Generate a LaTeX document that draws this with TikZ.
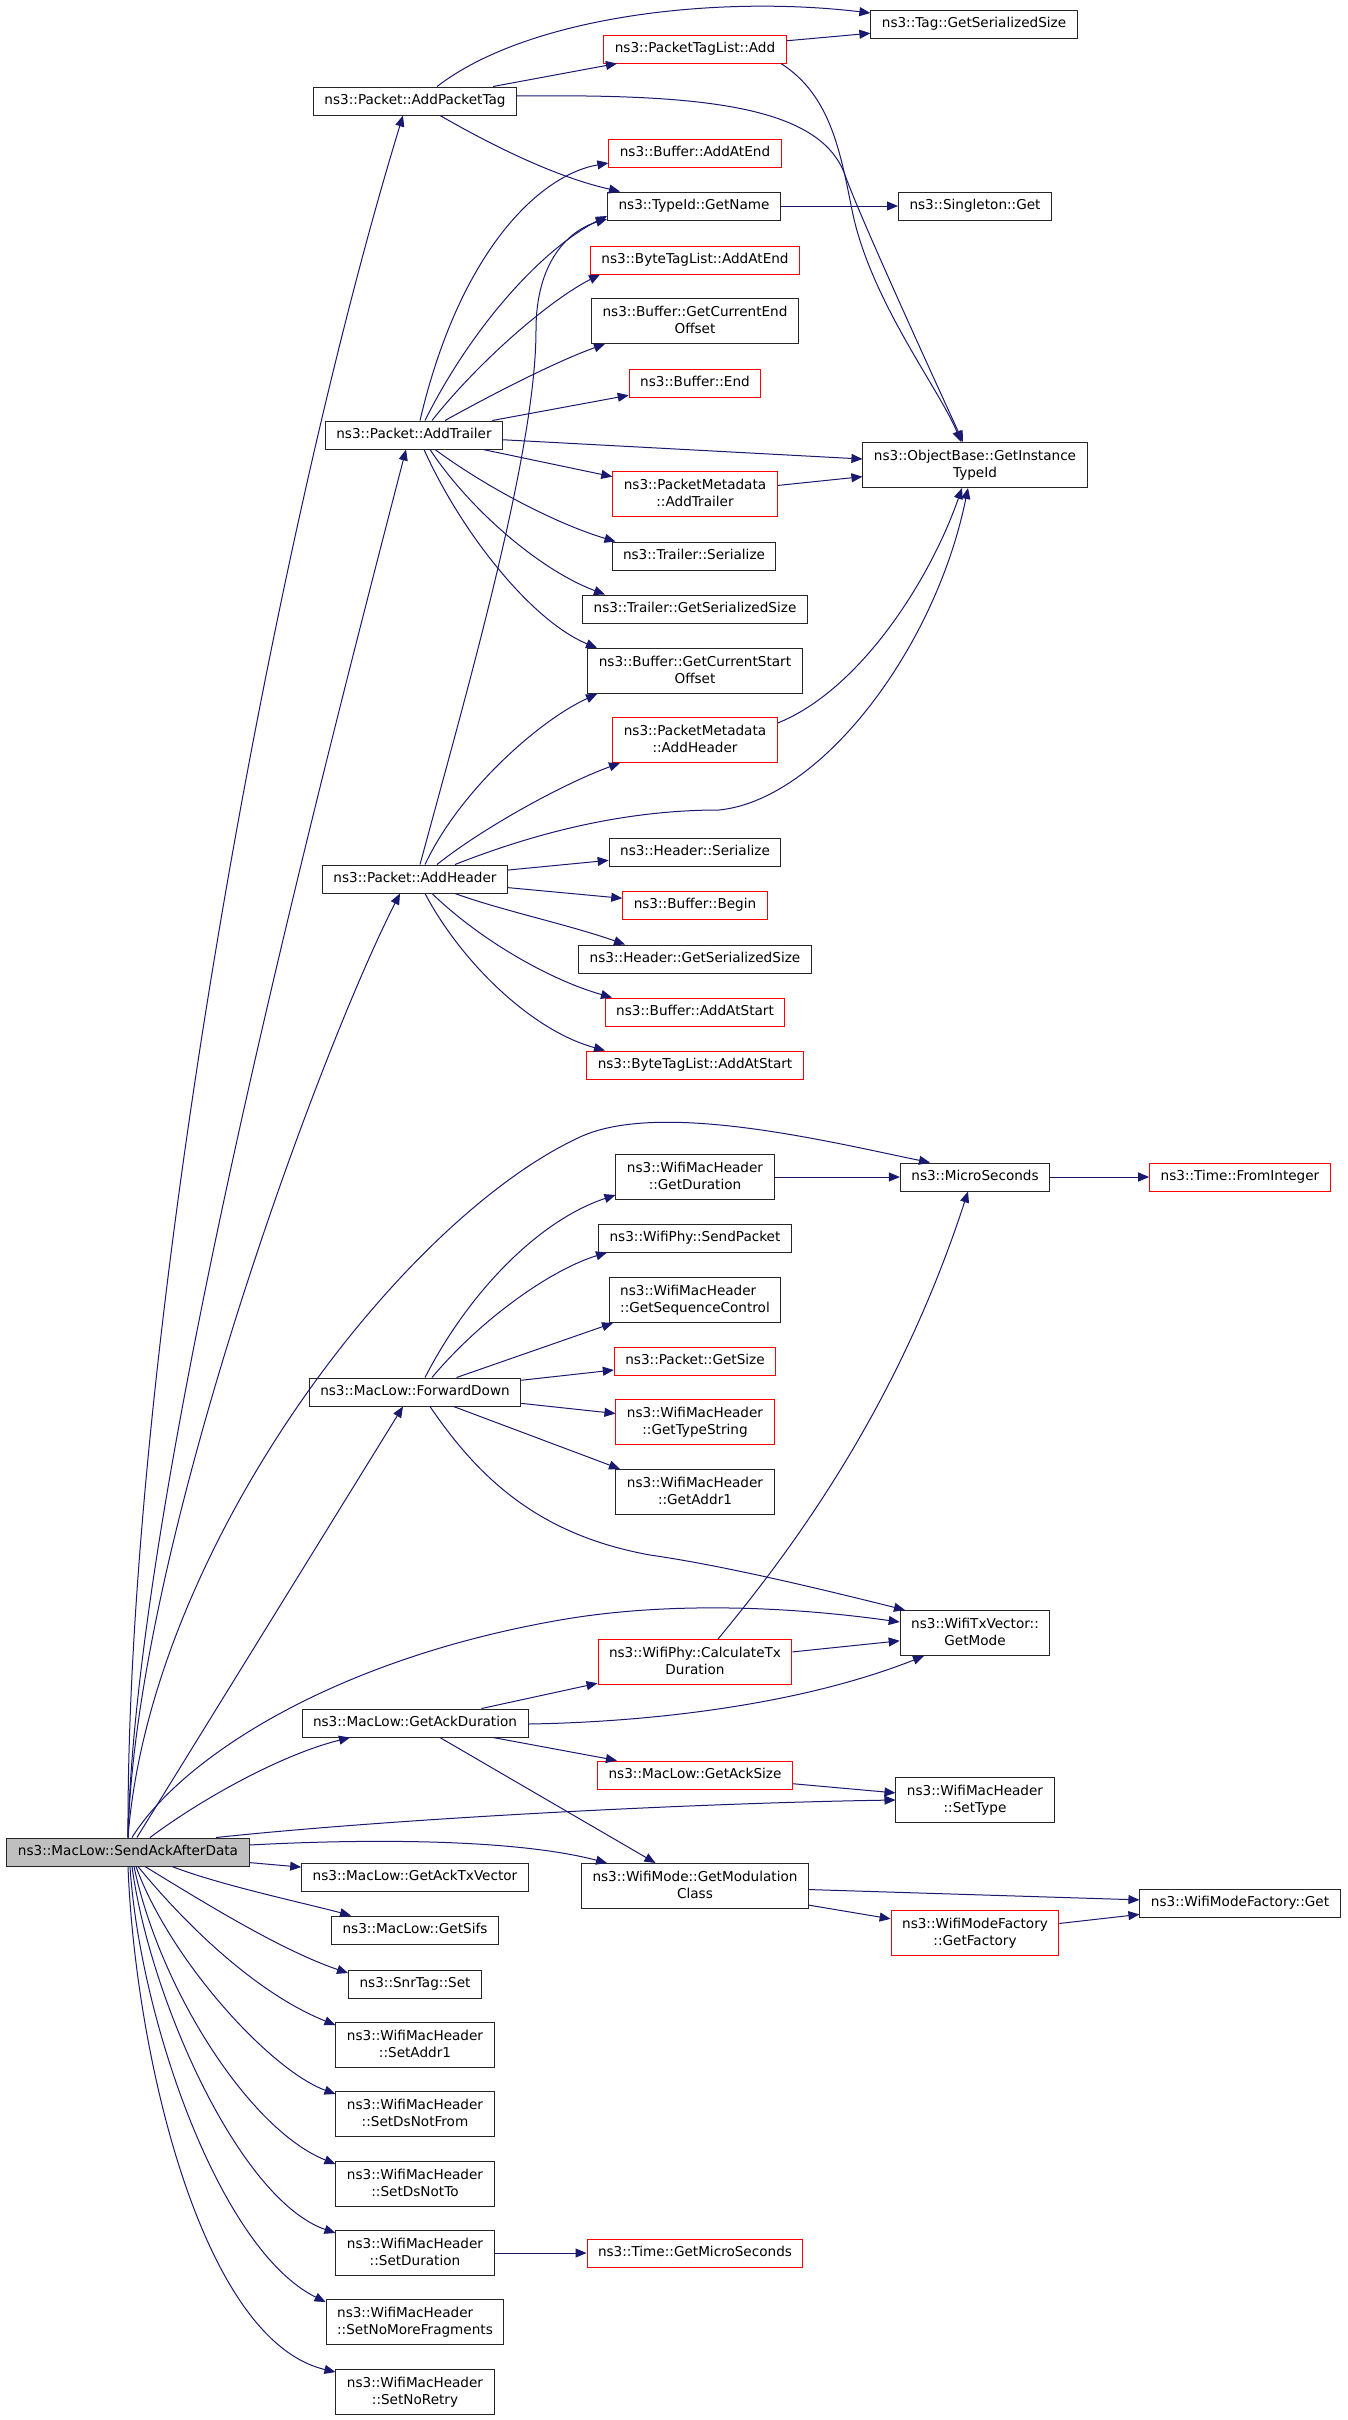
\documentclass[tikz,border=0pt]{standalone}
\usepackage{fontspec}
\setmainfont{DejaVu Sans}
\usepackage{xcolor}
\usepackage{tikz}
\usetikzlibrary{arrows.meta}

\definecolor{callblue}{RGB}{25,25,112}
\definecolor{rootgrey}{RGB}{191,191,191}
\newcommand{\fnfont}{\fontsize{13.6}{17}\selectfont}

\begin{document}
\begin{tikzpicture}[x=1pt, y=-1pt, >={Triangle[length=11pt,width=9pt]},
  every fn/.style={draw=black!85, line width=1pt, fill=white, font=\fnfont,
    inner xsep=11pt, inner ysep=0pt, minimum height=28pt, text height=10pt, text depth=3pt},
  fn red/.style={draw=red},
  fn two/.style={align=center, minimum height=45pt, text height=27pt, text depth=3pt},
  fn root/.style={fill=rootgrey},
  call/.style={->, draw=callblue, line width=1pt}]

\useasboundingbox[fill=white] (0,0) rectangle (1347,2420);

\foreach \n/\x/\y/\t in {tag-getsize/974/24/{ns3::Tag::GetSerializedSize},
    pkt-addtag/415/101/{ns3::Packet::AddPacketTag},
    typeid-getname/694/206/{ns3::TypeId::GetName},
    singleton-get/975/206/{ns3::Singleton::Get},
    pkt-addtrailer/414/435/{ns3::Packet::AddTrailer},
    trailer-ser/694/556/{ns3::Trailer::Serialize},
    trailer-size/695/609/{ns3::Trailer::GetSerializedSize},
    header-ser/695/852/{ns3::Header::Serialize},
    pkt-addheader/415/879/{ns3::Packet::AddHeader},
    header-size/695/959/{ns3::Header::GetSerializedSize},
    ms/975/1177/{ns3::MicroSeconds},
    phy-send/695/1238/{ns3::WifiPhy::SendPacket},
    fwd-down/415/1392/{ns3::MacLow::ForwardDown},
    ack-dur/415/1723/{ns3::MacLow::GetAckDuration},
    ack-txv/415/1877/{ns3::MacLow::GetAckTxVector},
    sifs/415/1930/{ns3::MacLow::GetSifs},
    snr-set/415/1984/{ns3::SnrTag::Set},
    wmf-get/1240/1903/{ns3::WifiModeFactory::Get}}
  \node [every fn] (\n) at (\x,\y) {\t};

\foreach \n/\x/\y/\t in {ptl-add/695/49/{ns3::PacketTagList::Add},
    buf-addatend/695/153/{ns3::Buffer::AddAtEnd},
    btl-addatend/695/260/{ns3::ByteTagList::AddAtEnd},
    buf-end/695/383/{ns3::Buffer::End},
    buf-begin/695/905/{ns3::Buffer::Begin},
    buf-addatstart/695/1012/{ns3::Buffer::AddAtStart},
    btl-addatstart/695/1065/{ns3::ByteTagList::AddAtStart},
    time-fromint/1240/1177/{ns3::Time::FromInteger},
    pkt-getsize/695/1361/{ns3::Packet::GetSize},
    ack-size/695/1775/{ns3::MacLow::GetAckSize},
    time-getus/695/2253/{ns3::Time::GetMicroSeconds}}
  \node [every fn, fn red] (\n) at (\x,\y) {\t};

\foreach \n/\x/\y/\t in {buf-endoff/695/321/{ns3::Buffer::GetCurrentEnd\\Offset},
    ob-typeid/975/465/{ns3::ObjectBase::GetInstance\\TypeId},
    buf-startoff/695/671/{ns3::Buffer::GetCurrentStart\\Offset},
    hdr-getdur/695/1177/{ns3::WifiMacHeader\\::GetDuration},
    hdr-getaddr1/695/1492/{ns3::WifiMacHeader\\::GetAddr1},
    txv-getmode/975/1633/{ns3::WifiTxVector::\\GetMode},
    hdr-settype/975/1800/{ns3::WifiMacHeader\\::SetType},
    mode-getmod/695/1886/{ns3::WifiMode::GetModulation\\Class},
    hdr-setaddr1/415/2045/{ns3::WifiMacHeader\\::SetAddr1},
    hdr-setfrom/415/2114/{ns3::WifiMacHeader\\::SetDsNotFrom},
    hdr-setto/415/2184/{ns3::WifiMacHeader\\::SetDsNotTo},
    hdr-setdur/415/2253/{ns3::WifiMacHeader\\::SetDuration},
    hdr-setretry/415/2392/{ns3::WifiMacHeader\\::SetNoRetry}}
  \node [every fn, fn two] (\n) at (\x,\y) {\t};

\foreach \n/\x/\y/\t in {pm-addtrailer/695/494/{ns3::PacketMetadata\\::AddTrailer},
    pm-addheader/695/740/{ns3::PacketMetadata\\::AddHeader},
    hdr-typestr/695/1422/{ns3::WifiMacHeader\\::GetTypeString},
    phy-calctx/695/1662/{ns3::WifiPhy::CalculateTx\\Duration},
    wmf-factory/975/1933/{ns3::WifiModeFactory\\::GetFactory}}
  \node [every fn, fn two, fn red] (\n) at (\x,\y) {\t};

\node [every fn, fn two, align=left] (hdr-getseq) at (695,1300) {ns3::WifiMacHeader\\::GetSequenceControl};
\node [every fn, fn two, align=left] (hdr-setfrag) at (415,2322) {ns3::WifiMacHeader\\::SetNoMoreFragments};
\node [every fn, fn root] (sendack) at (128,1852) {ns3::MacLow::SendAckAfterData};

\foreach \i/\j in {pkt-addtag/ptl-add, ptl-add/tag-getsize, typeid-getname/singleton-get,
    pkt-addtrailer/buf-end, pkt-addtrailer/ob-typeid, pkt-addtrailer/pm-addtrailer,
    pm-addtrailer/ob-typeid, pkt-addheader/header-ser, pkt-addheader/buf-begin,
    hdr-getdur/ms, ms/time-fromint, fwd-down/pkt-getsize, fwd-down/hdr-typestr,
    sendack/ack-txv, ack-dur/phy-calctx, ack-dur/ack-size, ack-dur/mode-getmod,
    phy-calctx/txv-getmode, ack-size/hdr-settype, mode-getmod/wmf-get,
    mode-getmod/wmf-factory, wmf-factory/wmf-get, hdr-setdur/time-getus}
  \draw [call] (\i) -- (\j);

\draw [call] ([xshift=22pt]pkt-addtag.north) .. controls (530,15) and (720,-5) .. ([yshift=11pt]tag-getsize.west);
\draw [call] ([yshift=5pt]pkt-addtag.east) .. controls (700,94) and (820,105) .. (845,175)
  .. controls (860,217) and (930,370) .. ([xshift=-12pt]ob-typeid.north);
\draw [call] ([xshift=25pt]pkt-addtag.south) .. controls (500,150) and (560,178) .. ([xshift=-74pt]typeid-getname.north);
\draw [call] ([xshift=86pt]ptl-add.south) .. controls (830,95) and (840,150) .. (852,210)
  .. controls (870,300) and (940,390) .. ([xshift=-14pt]ob-typeid.north);

\draw [call] ([xshift=6pt]pkt-addtrailer.north) .. controls (460,250) and (540,175) .. ([yshift=-10pt]buf-addatend.west);
\draw [call] ([xshift=11pt]pkt-addtrailer.north) .. controls (470,330) and (540,250) .. ([yshift=-10pt]typeid-getname.west);
\draw [call] ([xshift=18pt]pkt-addtrailer.north) .. controls (480,360) and (550,300) .. ([xshift=-95pt]btl-addatend.south);
\draw [call] ([xshift=31pt]pkt-addtrailer.north) .. controls (500,390) and (560,360) .. ([xshift=-90pt]buf-endoff.south);
\draw [call] ([xshift=21pt]pkt-addtrailer.south) .. controls (490,490) and (560,525) .. ([xshift=4pt]trailer-ser.north west);
\draw [call] ([xshift=16pt]pkt-addtrailer.south) .. controls (470,510) and (540,570) .. ([xshift=-90pt]trailer-size.north);
\draw [call] ([xshift=10pt]pkt-addtrailer.south) .. controls (460,530) and (530,620) .. ([xshift=-98pt]buf-startoff.north);

\draw [call] ([xshift=5pt]pkt-addheader.north) .. controls (470,680) and (536,450) .. (536,330)
  .. controls (536,260) and (570,230) .. ([yshift=-13pt]typeid-getname.west);
\draw [call] ([xshift=10pt]pkt-addheader.north) .. controls (460,790) and (540,720) .. ([xshift=-98pt]buf-startoff.south);
\draw [call] ([xshift=22pt]pkt-addheader.north) .. controls (480,830) and (560,785) .. ([xshift=-75pt]pm-addheader.south);
\draw [call] ([xshift=40pt]pkt-addheader.north) .. controls (530,835) and (620,810) .. (719,810)
  .. controls (820,800) and (935,650) .. ([xshift=-7pt]ob-typeid.south);
\draw [call] ([yshift=17pt]pm-addheader.east) .. controls (860,690) and (930,580) .. ([xshift=-13pt]ob-typeid.south);
\draw [call] ([xshift=40pt]pkt-addheader.south) .. controls (500,910) and (570,925) .. ([xshift=-70pt]header-size.north);
\draw [call] ([xshift=17pt]pkt-addheader.south) .. controls (480,940) and (550,980) .. ([xshift=-83pt]buf-addatstart.north);
\draw [call] ([xshift=10pt]pkt-addheader.south) .. controls (460,960) and (530,1030) .. ([xshift=-90pt]btl-addatstart.north);

\draw [call] ([xshift=10pt]fwd-down.north) .. controls (470,1290) and (540,1220) .. ([yshift=-18pt]hdr-getdur.west);
\draw [call] ([xshift=17pt]fwd-down.north) .. controls (480,1320) and (550,1270) .. ([xshift=-88pt]phy-send.south);
\draw [call] (fwd-down) -- ([xshift=-82pt]hdr-getseq.south);
\draw [call] (fwd-down) -- ([xshift=-75pt]hdr-getaddr1.north);
\draw [call] ([xshift=15pt]fwd-down.south) .. controls (480,1480) and (540,1535) .. (650,1555)
  .. controls (720,1565) and (813,1587) .. ([xshift=-70pt]txv-getmode.north);

\draw [call] ([yshift=-1pt]ack-dur.east) .. controls (650,1722) and (800,1705) .. ([xshift=-51pt]txv-getmode.south);
\draw [call] ([xshift=23pt]phy-calctx.north) .. controls (800,1540) and (900,1400) .. ([xshift=-7pt]ms.south);

\draw [call] (sendack.north) .. controls (126,1350) and (270,550) .. ([xshift=-12pt]pkt-addtag.south);
\draw [call] (sendack.north) .. controls (135,1500) and (310,820) .. ([xshift=-8pt]pkt-addtrailer.south);
\draw [call] (sendack.north) .. controls (135,1550) and (320,1050) .. ([xshift=-15pt]pkt-addheader.south);
\draw [call] (sendack.north) .. controls (150,1550) and (400,1220) .. (580,1137)
  .. controls (660,1100) and (830,1142) .. ([xshift=-45pt]ms.north);
\draw [call] (sendack) -- ([xshift=-12pt]fwd-down.south);
\draw [call] ([xshift=22pt]sendack.north) .. controls (200,1800) and (280,1755) .. ([xshift=-65pt]ack-dur.south);
\draw [call] ([xshift=4pt]sendack.north) .. controls (180,1760) and (330,1660) .. (560,1620)
  .. controls (675,1600) and (800,1608) .. ([yshift=11pt]txv-getmode.west);
\draw [call] ([xshift=88pt]sendack.north) .. controls (400,1818) and (700,1803) .. (hdr-settype.west);
\draw [call] ([yshift=7pt]sendack.east) .. controls (380,1838) and (520,1840) .. ([xshift=-88pt]mode-getmod.north);
\draw [call] ([xshift=44pt]sendack.south) .. controls (220,1885) and (300,1902) .. ([xshift=-64pt]sifs.north);
\draw [call] ([xshift=17pt]sendack.south) .. controls (200,1900) and (280,1950) .. ([yshift=11pt]snr-set.west);
\draw [call] ([xshift=10pt]sendack.south) .. controls (190,1930) and (260,1995) .. ([yshift=-3pt]hdr-setaddr1.north west);
\draw [call] ([xshift=8pt]sendack.south) .. controls (170,1960) and (270,2070) .. ([yshift=-3pt]hdr-setfrom.north west);
\draw [call] ([xshift=6pt]sendack.south) .. controls (160,1990) and (250,2130) .. ([yshift=-3pt]hdr-setto.north west);
\draw [call] ([xshift=4pt]sendack.south) .. controls (150,2000) and (240,2200) .. ([yshift=-3pt]hdr-setdur.north west);
\draw [call] ([xshift=2pt]sendack.south) .. controls (140,2020) and (220,2250) .. ([yshift=-3pt]hdr-setfrag.north west);
\draw [call] (sendack.south) .. controls (135,2050) and (200,2340) .. ([yshift=-3pt]hdr-setretry.north west);

\end{tikzpicture}
\end{document}
